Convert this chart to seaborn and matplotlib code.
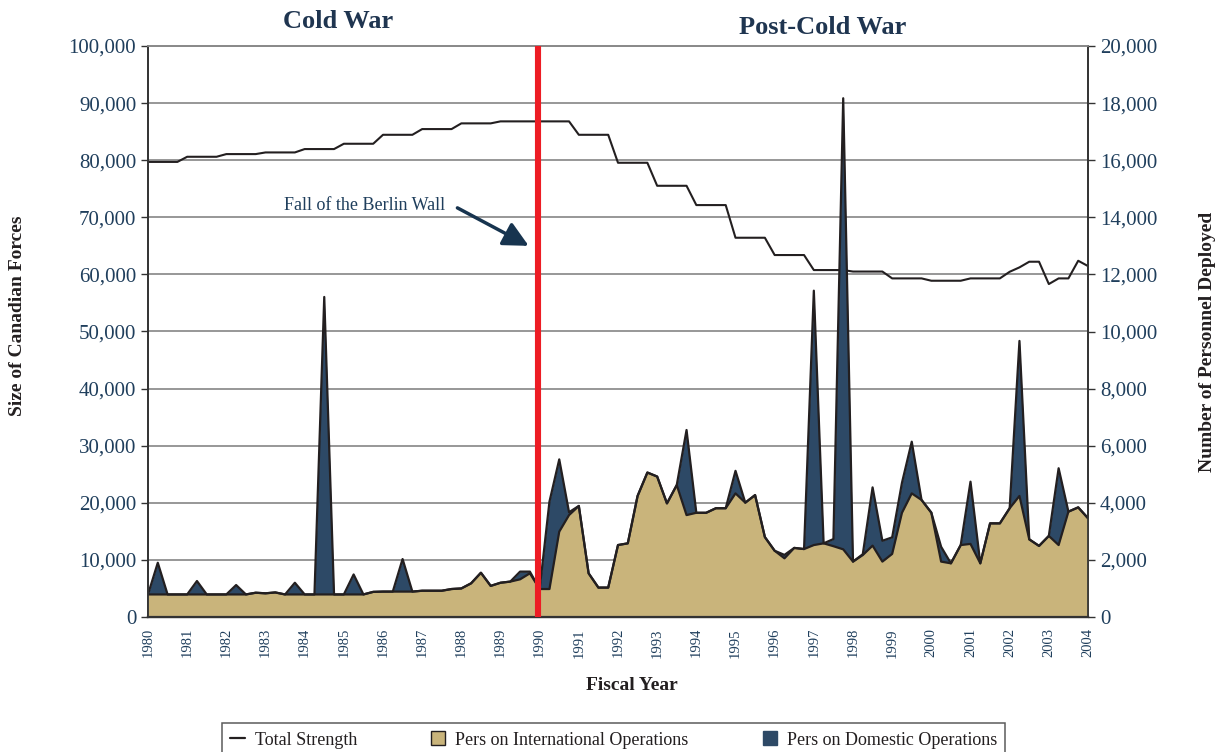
import numpy as np
import matplotlib
matplotlib.use("Agg")
import matplotlib.pyplot as plt
from matplotlib.lines import Line2D
from matplotlib.patches import Patch
import seaborn as sns

# quarterly fiscal periods, 1980 .. 2004
quarter = 1980 + np.arange(97) / 4

# Total Strength (left axis)
total_strength = [
    79700, 79700, 79700, 79700, 80600, 80600, 80600, 80600,
    81070, 81070, 81070, 81070, 81360, 81360, 81360, 81360,
    81950, 81950, 81950, 81950, 82880, 82880, 82880, 82880,
    84450, 84450, 84450, 84450, 85450, 85450, 85450, 85450,
    86450, 86450, 86450, 86450, 86800, 86800, 86800, 86800,
    86800, 86800, 86800, 86800, 84450, 84450, 84450, 84450,
    79550, 79550, 79550, 79550, 75520, 75520, 75520, 75520,
    72140, 72140, 72140, 72140, 66420, 66420, 66420, 66420,
    63390, 63390, 63390, 63390, 60760, 60760, 60760, 60760,
    60500, 60500, 60500, 60500, 59300, 59300, 59300, 59300,
    58890, 58890, 58890, 58890, 59300, 59300, 59300, 59300,
    60460, 61230, 62220, 62220, 58310, 59300, 59300, 62390,
    61460,
]

# Pers on International Operations (right axis)
intl_ops = [
    790, 790, 790, 790, 790, 790, 790, 790,
    790, 790, 790, 850, 830, 860, 790, 790,
    790, 790, 790, 790, 790, 790, 790, 880,
    890, 890, 890, 890, 920, 920, 920, 980,
    1000, 1180, 1550, 1090, 1200, 1240, 1320, 1530,
    980, 980, 2990, 3570, 3890, 1530, 1030, 1030,
    2520, 2580, 4240, 5060, 4920, 3980, 4620, 3570,
    3650, 3650, 3810, 3810, 4330, 4005, 4270, 2800,
    2320, 2055, 2420, 2380, 2520, 2580, 2480, 2370,
    1940, 2170, 2500, 1940, 2210, 3650, 4330, 4100,
    3655, 1940, 1880, 2520, 2560, 1880, 3280, 3280,
    3810, 4240, 2720, 2490, 2840, 2520, 3690, 3840,
    3460,
]

# Pers on Domestic Operations (right axis, stacked on international)
dom_ops = [
    0, 1110, 0, 0, 0, 470, 0, 0,
    0, 330, 0, 0, 0, 0, 0, 410,
    0, 0, 10420, 0, 0, 700, 0, 0,
    0, 0, 1140, 0, 0, 0, 0, 0,
    0, 0, 0, 0, 0, 0, 270, 60,
    0, 3060, 2530, 100, 0, 0, 0, 0,
    0, 0, 0, 0, 0, 0, 0, 2980,
    0, 0, 0, 0, 790, 0, 0, 0,
    0, 120, 0, 0, 8910, 0, 250, 15800,
    0, 30, 2040, 730, 580, 1050, 1810, 0,
    0, 520, 0, 0, 2180, 0, 0, 0,
    0, 5430, 0, 0, 0, 2690, 0, 0,
    0,
]

year_ticks = list(range(1980, 2005))
left_ticks = list(range(0, 100001, 10000))
right_ticks = list(range(0, 20001, 2000))

TAN = "#C9B47B"
NAVY = "#2D4966"
OUTLINE = "#231F20"
TXT = "#1F3E5C"
FALL_OF_WALL = 1989.95

sns.set_theme(style="white")
plt.rcParams["font.family"] = ["Liberation Serif", "DejaVu Serif"]

fig = plt.figure(figsize=(12.25, 7.52), dpi=100)
ax = fig.add_axes([148 / 1225, 135 / 752, 940 / 1225, 571 / 752])
ax2 = ax.twinx()

# total strength line on left axis (drawn underneath the areas)
sns.lineplot(x=quarter, y=total_strength, ax=ax, color=OUTLINE, linewidth=1.5,
             legend=False)
ax.set_xlim(1980, 2004)
ax.set_ylim(0, 100000)
ax.set_yticks(left_ticks)
ax.set_yticklabels([f"{v:,}" for v in left_ticks], color=TXT, fontsize=15)
ax.set_xticks(year_ticks)
ax.set_xticklabels([str(y) for y in year_ticks], rotation=90, color=TXT,
                   fontsize=10.5)
ax.grid(axis="y", color="#7a7a7a", linewidth=1.1)
ax.grid(axis="x", visible=False)
ax.set_axisbelow(True)
ax.tick_params(axis="both", direction="out", length=5, width=1, color="#333333")
ax.tick_params(axis="x", pad=3)
ax.set_xlabel("")
ax.set_ylabel("")

# stacked deployment areas on right axis
total_deployed = np.array(intl_ops) + np.array(dom_ops)
ax2.fill_between(quarter, 0, intl_ops, color=TAN, linewidth=0)
ax2.fill_between(quarter, intl_ops, total_deployed, color=NAVY, linewidth=0)
sns.lineplot(x=quarter, y=total_deployed, ax=ax2, color=OUTLINE, linewidth=1.6,
             legend=False)
sns.lineplot(x=quarter, y=intl_ops, ax=ax2, color=OUTLINE, linewidth=1.6,
             legend=False)
ax2.set_ylim(0, 20000)
ax2.set_yticks(right_ticks)
ax2.set_yticklabels([f"{v:,}" for v in right_ticks], color=TXT, fontsize=15)
ax2.tick_params(axis="y", direction="out", length=5, width=1, color="#333333")
ax2.grid(False)
ax2.set_ylabel("")

# fall of the Berlin wall marker
ax2.axvline(FALL_OF_WALL, color="#ED1C24", linewidth=4.4, zorder=10)
ax2.text(1987.58, 14430, "Fall of the Berlin Wall", ha="right", va="center",
         color=TXT, fontsize=13)
ax2.annotate("", xy=(1989.72, 13000), xytext=(1987.9, 14330),
             arrowprops=dict(arrowstyle="-|>", color="#17344F", lw=2.5,
                             mutation_scale=38, shrinkA=0, shrinkB=0),
             zorder=11)

for a in (ax, ax2):
    a.spines["top"].set_color("#8a8a8a")
    a.spines["left"].set_color("#333333")
    a.spines["right"].set_color("#333333")
    a.spines["bottom"].set_color("#333333")
    a.spines["bottom"].set_linewidth(1.6)

fig.text(338 / 1225, 1 - 22 / 752, "Cold War", ha="center", va="center",
         fontsize=19, fontweight="bold", color="#1F3550")
fig.text(823 / 1225, 1 - 28 / 752, "Post-Cold War", ha="center", va="center",
         fontsize=19, fontweight="bold", color="#1F3550")
fig.text(18 / 1225, 1 - 316 / 752, "Size of Canadian Forces", rotation=90,
         ha="center", va="center", fontsize=14, fontweight="bold", color="#231F20")
fig.text(1207 / 1225, 1 - 342 / 752, "Number of Personnel Deployed", rotation=90,
         ha="center", va="center", fontsize=14, fontweight="bold", color="#231F20")
fig.text(632 / 1225, 1 - 686 / 752, "Fiscal Year", ha="center", va="center",
         fontsize=14, fontweight="bold", color="#231F20")

handles = [
    Line2D([0], [0], color=OUTLINE, linewidth=1.6),
    Patch(facecolor=TAN, edgecolor=OUTLINE, linewidth=1),
    Patch(facecolor=NAVY, edgecolor=NAVY),
]
labels = ["Total Strength", "Pers on International Operations",
          "Pers on Domestic Operations"]
leg = fig.legend(handles, labels, loc="center", bbox_to_anchor=(0.501, 0.016),
                 ncol=3, frameon=True, fancybox=False, fontsize=13,
                 handlelength=0.8, handleheight=0.8, handletextpad=0.55,
                 columnspacing=4.1, borderpad=0.45, labelcolor="#231F20")
leg.get_frame().set_edgecolor("#333333")
leg.get_frame().set_linewidth(1.1)

fig.savefig("out.png", dpi=100)
